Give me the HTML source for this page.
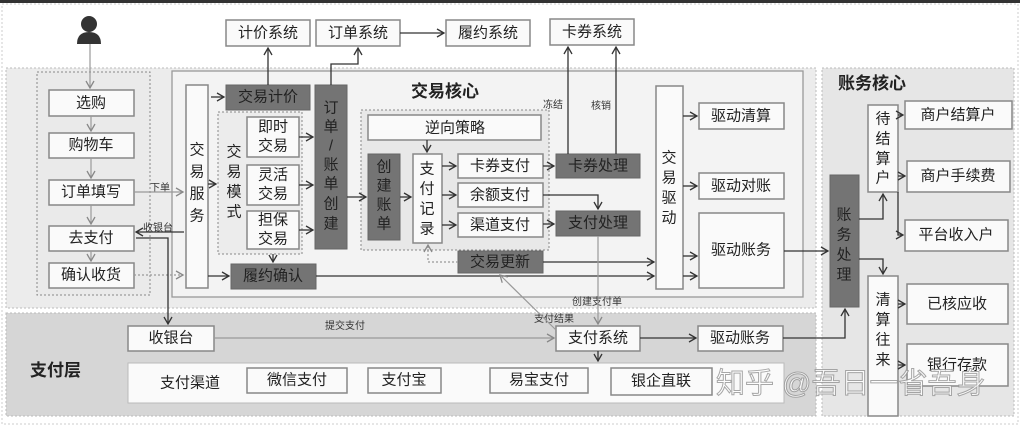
<!DOCTYPE html>
<html><head><meta charset="utf-8"><style>
body{margin:0;background:#fff}
svg{display:block}
text{font-family:"Liberation Sans","Noto Sans CJK SC",sans-serif;fill:#222}
.b{fill:#fafafa;stroke:#888;stroke-width:1.5}
.d{fill:#747474;stroke:#666;stroke-width:1}
.t{font-size:15px;text-anchor:middle;dominant-baseline:central}
.s{font-size:10px;fill:#333}
.l{stroke:#333;stroke-width:1.3;fill:none}
.g{stroke:#999;stroke-width:1.2;fill:none}
</style></head><body>
<svg width="1020" height="427" viewBox="0 0 1020 427" xmlns="http://www.w3.org/2000/svg">
<defs>
<marker id="a" markerWidth="10" markerHeight="10" refX="8" refY="5" orient="auto" markerUnits="userSpaceOnUse"><path d="M1,1 L8,5 L1,9" fill="none" stroke="#333" stroke-width="1.3"/></marker>
<marker id="ag" markerWidth="10" markerHeight="10" refX="8" refY="5" orient="auto" markerUnits="userSpaceOnUse"><path d="M1,1 L8,5 L1,9" fill="none" stroke="#888" stroke-width="1.3"/></marker>
</defs>
<rect x="0" y="0" width="1020" height="427" fill="#fff"/>
<rect x="0" y="0" width="1020" height="3" fill="#333"/>
<rect x="2" y="4" width="1016" height="420" fill="none" stroke="#ccc" stroke-dasharray="2,2"/>
<rect x="6" y="68" width="810" height="240" fill="#ececec" stroke="#bbb" stroke-dasharray="2,2"/>
<rect x="6" y="313" width="810" height="103" fill="#d6d6d6" stroke="#bbb" stroke-dasharray="2,2"/>
<rect x="822" y="68" width="192" height="348" fill="#e6e6e6" stroke="#bbb" stroke-dasharray="2,2"/>
<rect x="172" y="71" width="631" height="226" fill="#f3f3f3" stroke="#999" stroke-width="1.3"/>
<rect x="37" y="72" width="113" height="223" fill="#eaeaea" stroke="#888" stroke-dasharray="2,2"/>
<rect x="218" y="112" width="84" height="142" fill="#ececec" stroke="#888" stroke-dasharray="2,2"/>
<rect x="361" y="110" width="188" height="140" fill="#e8e8e8" stroke="#888" stroke-dasharray="2,2"/>
<circle cx="89" cy="24" r="8" fill="#333"/>
<path d="M77,44 Q77,32 89,32 Q101,32 101,44 Z" fill="#333"/>
<rect class="b" x="226" y="20" width="84" height="26"/><text class="t" x="268" y="33">计价系统</text>
<rect class="b" x="316" y="20" width="84" height="26"/><text class="t" x="358" y="33">订单系统</text>
<rect class="b" x="446" y="20" width="84" height="26"/><text class="t" x="488" y="33">履约系统</text>
<rect class="b" x="550" y="19" width="84" height="26"/><text class="t" x="592" y="32">卡券系统</text>
<rect class="b" x="49" y="90" width="85" height="26"/><text class="t" x="91" y="103">选购</text>
<rect class="b" x="49" y="133" width="85" height="25"/><text class="t" x="91" y="145">购物车</text>
<rect class="b" x="49" y="180" width="85" height="25"/><text class="t" x="91" y="192">订单填写</text>
<rect class="b" x="49" y="226" width="85" height="25"/><text class="t" x="91" y="238">去支付</text>
<rect class="b" x="49" y="263" width="85" height="25"/><text class="t" x="91" y="275">确认收货</text>
<rect class="b" x="186" y="85" width="22" height="203"/>
<text class="t" x="197" y="150">交</text><text class="t" x="197" y="172">易</text><text class="t" x="197" y="194">服</text><text class="t" x="197" y="216">务</text>
<rect class="d" x="226" y="85" width="84" height="25"/><text class="t" x="268" y="97">交易计价</text>
<text class="t" x="234" y="152">交</text><text class="t" x="234" y="172">易</text><text class="t" x="234" y="192">模</text><text class="t" x="234" y="212">式</text>
<rect class="b" x="247" y="117" width="52" height="40"/><text class="t" x="273" y="127">即时</text><text class="t" x="273" y="146">交易</text>
<rect class="b" x="247" y="165" width="52" height="40"/><text class="t" x="273" y="175">灵活</text><text class="t" x="273" y="194">交易</text>
<rect class="b" x="247" y="211" width="52" height="38"/><text class="t" x="273" y="220">担保</text><text class="t" x="273" y="239">交易</text>
<rect class="d" x="315" y="85" width="32" height="164"/>
<text class="t" x="331" y="108">订</text><text class="t" x="331" y="127">单</text><text class="t" x="331" y="146">/</text><text class="t" x="331" y="165">账</text><text class="t" x="331" y="184">单</text><text class="t" x="331" y="204">创</text><text class="t" x="331" y="224">建</text>
<rect class="d" x="231" y="264" width="85" height="25"/><text class="t" x="273" y="276">履约确认</text>
<text x="445" y="97" style="font-size:17px;font-weight:bold;text-anchor:middle">交易核心</text>
<rect class="b" x="368" y="115" width="173" height="25"/><text class="t" x="455" y="128">逆向策略</text>
<rect class="d" x="368" y="154" width="32" height="86"/>
<text class="t" x="384" y="167">创</text><text class="t" x="384" y="186">建</text><text class="t" x="384" y="205">账</text><text class="t" x="384" y="224">单</text>
<rect class="b" x="413" y="154" width="29" height="89"/>
<text class="t" x="427" y="169">支</text><text class="t" x="427" y="189">付</text><text class="t" x="427" y="209">记</text><text class="t" x="427" y="229">录</text>
<rect class="b" x="458" y="154" width="85" height="24"/><text class="t" x="500" y="166">卡券支付</text>
<rect class="b" x="458" y="183" width="85" height="24"/><text class="t" x="500" y="195">余额支付</text>
<rect class="b" x="458" y="213" width="85" height="24"/><text class="t" x="500" y="225">渠道支付</text>
<rect class="d" x="556" y="154" width="84" height="24"/><text class="t" x="598" y="166">卡券处理</text>
<rect class="d" x="556" y="211" width="84" height="25"/><text class="t" x="598" y="223">支付处理</text>
<rect class="d" x="458" y="251" width="85" height="22"/><text class="t" x="500" y="262">交易更新</text>
<rect class="b" x="656" y="86" width="27" height="203"/>
<text class="t" x="669" y="158">交</text><text class="t" x="669" y="178">易</text><text class="t" x="669" y="198">驱</text><text class="t" x="669" y="218">动</text>
<rect class="b" x="699" y="103" width="85" height="26"/><text class="t" x="741" y="116">驱动清算</text>
<rect class="b" x="699" y="173" width="85" height="26"/><text class="t" x="741" y="186">驱动对账</text>
<rect class="b" x="699" y="213" width="85" height="75"/><text class="t" x="741" y="250">驱动账务</text>
<text class="s" x="543" y="108">冻结</text><text class="s" x="591" y="109">核销</text>
<text class="s" x="572" y="305">创建支付单</text><text class="s" x="534" y="322">支付结果</text>
<text class="s" x="150" y="191">下单</text><text class="s" x="143" y="231">收银台</text>
<text class="s" x="325" y="329">提交支付</text>
<text x="30" y="376" style="font-size:17px;font-weight:bold">支付层</text>
<rect class="b" x="128" y="326" width="86" height="25"/><text class="t" x="171" y="338">收银台</text>
<rect class="b" x="556" y="326" width="84" height="25"/><text class="t" x="598" y="338">支付系统</text>
<rect class="b" x="698" y="326" width="85" height="25"/><text class="t" x="740" y="338">驱动账务</text>
<rect x="128" y="363" width="656" height="40" fill="#fafafa" stroke="#bbb"/>
<text class="t" x="190" y="383">支付渠道</text>
<rect class="b" x="247" y="368" width="100" height="25"/><text class="t" x="297" y="380">微信支付</text>
<rect class="b" x="368" y="368" width="73" height="25"/><text class="t" x="404" y="380">支付宝</text>
<rect class="b" x="490" y="368" width="98" height="25"/><text class="t" x="539" y="380">易宝支付</text>
<rect class="b" x="611" y="368" width="101" height="27"/><text class="t" x="661" y="381">银企直联</text>
<text x="838" y="89" style="font-size:17px;font-weight:bold">账务核心</text>
<rect class="d" x="830" y="175" width="29" height="132"/>
<text class="t" x="844" y="215">账</text><text class="t" x="844" y="235">务</text><text class="t" x="844" y="255">处</text><text class="t" x="844" y="275">理</text>
<rect class="b" x="868" y="105" width="30" height="87"/>
<text class="t" x="883" y="119">待</text><text class="t" x="883" y="139">结</text><text class="t" x="883" y="159">算</text><text class="t" x="883" y="178">户</text>
<rect class="b" x="905" y="101" width="107" height="28"/><text class="t" x="958" y="115">商户结算户</text>
<rect class="b" x="907" y="161" width="103" height="31"/><text class="t" x="958" y="176">商户手续费</text>
<rect class="b" x="905" y="220" width="103" height="31"/><text class="t" x="956" y="235">平台收入户</text>
<rect class="b" x="868" y="276" width="30" height="140"/>
<text class="t" x="883" y="300">清</text><text class="t" x="883" y="320">算</text><text class="t" x="883" y="340">往</text><text class="t" x="883" y="360">来</text>
<rect class="b" x="907" y="284" width="101" height="40"/><text class="t" x="957" y="304">已核应收</text>
<rect class="b" x="907" y="344" width="101" height="42"/><text class="t" x="957" y="365">银行存款</text>
<path class="g" d="M90,44 V88" marker-end="url(#ag)"/>
<path class="g" d="M91,116 V131" marker-end="url(#ag)"/>
<path class="g" d="M91,158 V178" marker-end="url(#ag)"/>
<path class="g" d="M91,205 V224" marker-end="url(#ag)"/>
<path class="g" d="M91,251 V261" marker-end="url(#ag)"/>
<path class="g" d="M134,192 H183" marker-end="url(#ag)"/>
<path class="g" d="M134,275 H183" stroke-dasharray="2,2" marker-end="url(#ag)"/>
<path class="l" d="M184,232 H136" marker-end="url(#a)"/>
<path class="l" d="M136,238 H168 V324" marker-end="url(#a)"/>
<path class="l" d="M211,97 H224" marker-end="url(#a)"/>
<path class="l" d="M268,85 V48" marker-end="url(#a)"/>
<path class="l" d="M331,85 V64 H358 V48" marker-end="url(#a)"/>
<path class="l" d="M400,33 H444" marker-end="url(#a)"/>
<path class="l" d="M208,184 H216" marker-end="url(#a)"/>
<path class="l" d="M299,137 H313" marker-end="url(#a)"/>
<path class="l" d="M299,185 H313" marker-end="url(#a)"/>
<path class="l" d="M299,230 H313" marker-end="url(#a)"/>
<path class="l" d="M273,254 V262" marker-end="url(#a)"/>
<path class="l" d="M208,276 H229" marker-end="url(#a)"/>
<path class="l" d="M316,276 H654" marker-end="url(#a)"/>
<path class="l" d="M347,197 H366" marker-end="url(#a)"/>
<path class="l" d="M400,197 H411" marker-end="url(#a)"/>
<path class="l" d="M427,140 V152" marker-end="url(#a)"/>
<path class="l" d="M442,166 H456" marker-end="url(#a)"/>
<path class="l" d="M442,195 H456" marker-end="url(#a)"/>
<path class="l" d="M442,225 H456" marker-end="url(#a)"/>
<path class="l" d="M543,166 H554" marker-end="url(#a)"/>
<path class="l" d="M543,224 H554" marker-end="url(#a)"/>
<path class="l" d="M543,195 H598 V209" marker-end="url(#a)"/>
<path class="l" d="M568,154 V47" marker-end="url(#a)"/>
<path class="l" d="M616,154 V47" marker-end="url(#a)"/>
<path class="g" d="M458,262 H428 V245" stroke-dasharray="2,2" marker-end="url(#ag)"/>
<path class="l" d="M543,262 H654" marker-end="url(#a)"/>
<path class="g" d="M598,236 V324" marker-end="url(#ag)"/>
<path class="g" d="M556,330 L500,275" marker-end="url(#ag)"/>
<path class="l" d="M683,116 H697" marker-end="url(#a)"/>
<path class="l" d="M683,186 H697" marker-end="url(#a)"/>
<path class="l" d="M683,256 H697" marker-end="url(#a)"/>
<path class="l" d="M683,276 H697" marker-end="url(#a)"/>
<path class="l" d="M784,251 H828" marker-end="url(#a)"/>
<path class="g" d="M214,338 H554" marker-end="url(#ag)"/>
<path class="l" d="M640,338 H696" marker-end="url(#a)"/>
<path class="l" d="M598,351 V361" marker-end="url(#a)"/>
<path class="l" d="M783,338 H845 V309" marker-end="url(#a)"/>
<path class="l" d="M859,219 H883 V194" marker-end="url(#a)"/>
<path class="l" d="M859,259 H883 V274" marker-end="url(#a)"/>
<path class="l" d="M898,115 H903" marker-end="url(#a)"/>
<path class="l" d="M898,176 H905" marker-end="url(#a)"/>
<path class="l" d="M898,192 V235 H903" marker-end="url(#a)"/>
<path class="l" d="M898,304 H905" marker-end="url(#a)"/>
<path class="l" d="M898,365 H905" marker-end="url(#a)"/>
<text x="716" y="393" style="font-size:29px;fill:#fff;stroke:#999;stroke-width:1;opacity:.85">知乎 @吾日一省吾身</text>
</svg>
</body></html>
